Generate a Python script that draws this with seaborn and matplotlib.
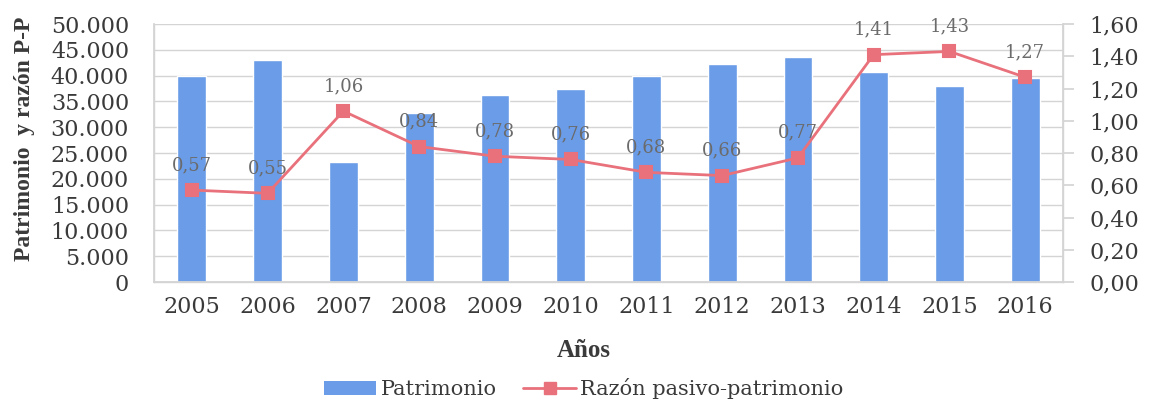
import matplotlib
matplotlib.use("Agg")
import matplotlib.pyplot as plt
from matplotlib.lines import Line2D
from matplotlib.patches import Patch
from matplotlib.ticker import FuncFormatter, MultipleLocator
import seaborn as sns
import pandas as pd

years = ["2005", "2006", "2007", "2008", "2009", "2010",
         "2011", "2012", "2013", "2014", "2015", "2016"]
patrimonio = [40000, 43000, 23200, 32800, 36200, 37400,
              40000, 42200, 43600, 40700, 38000, 39500]
razon = [0.57, 0.55, 1.06, 0.84, 0.78, 0.76,
         0.68, 0.66, 0.77, 1.41, 1.43, 1.27]

df = pd.DataFrame({"Año": years, "Patrimonio": patrimonio, "Razon": razon})

sns.set_theme(style="white")
plt.rcParams["font.family"] = ["DejaVu Serif"]

bar_color = "#6a9ce8"
line_color = "#e8717b"
text_color = "#3a3a3a"
grid_color = "#d4d4d4"

fig = plt.figure(figsize=(11.51, 4.07), dpi=100)
ax = fig.add_axes([0.1338, 0.3071, 0.7898, 0.6339])

sns.barplot(data=df, x="Año", y="Patrimonio", color=bar_color,
            width=0.38, saturation=1, ax=ax)
ax.set_ylim(0, 50000)
ax.yaxis.set_major_locator(MultipleLocator(5000))
ax.yaxis.set_major_formatter(
    FuncFormatter(lambda v, p: f"{int(v):,}".replace(",", ".")))
ax.grid(axis="y", color=grid_color, linewidth=1.0)
ax.set_axisbelow(True)
ax.tick_params(axis="y", length=0, labelsize=16, colors=text_color, pad=18)
ax.tick_params(axis="x", length=0, labelsize=16, colors=text_color, pad=10)
for s in ["left", "right", "top", "bottom"]:
    ax.spines[s].set_color(grid_color)
    ax.spines[s].set_linewidth(1.0)
ax.spines["top"].set_visible(False)

ax.set_xlabel("Años", fontsize=18, fontweight="bold", color=text_color,
              family="Liberation Serif")
ax.xaxis.set_label_coords(0.473, -0.264)
ax.xaxis.label.set_va("center")
ax.set_ylabel("Patrimonio  y razón P-P", fontsize=17, fontweight="bold",
              color=text_color, family="Liberation Serif")
ax.yaxis.set_label_coords(-0.143, 0.556)
ax.yaxis.label.set_va("center")

ax2 = ax.twinx()
sns.pointplot(data=df, x="Año", y="Razon", color=line_color, markers="s",
              markersize=8, linewidth=2, ax=ax2)
ax2.set_ylim(0, 1.6)
ax2.yaxis.set_major_locator(MultipleLocator(0.2))
ax2.yaxis.set_major_formatter(
    FuncFormatter(lambda v, p: f"{v:.2f}".replace(".", ",")))
ax2.tick_params(axis="y", length=8, color=grid_color, labelsize=16,
                colors=text_color, pad=11)
ax2.tick_params(axis="y", color=grid_color)
ax2.set_ylabel("")
for s in ["left", "right", "top", "bottom"]:
    ax2.spines[s].set_color(grid_color)
ax2.spines["top"].set_visible(False)
ax2.set_xlim(-0.5, len(years) - 0.5)
ax.set_xlim(-0.5, len(years) - 0.5)

for i, v in enumerate(razon):
    ax2.annotate(f"{v:.2f}".replace(".", ","), (i, v),
                 xytext=(0, 18), textcoords="offset points",
                 ha="center", va="center", fontsize=13, color="#6b6b6b")

handles = [
    Patch(facecolor=bar_color, edgecolor="none", label="Patrimonio"),
    Line2D([0], [0], color=line_color, lw=2, marker="s", markersize=9,
           label="Razón pasivo-patrimonio"),
]
fig.legend(handles=handles, loc="center", bbox_to_anchor=(0.507, 0.045),
           ncol=2, frameon=False, fontsize=15, labelcolor=text_color,
           handlelength=2.5, columnspacing=1.3, handletextpad=0.2)

fig.savefig("out.png", dpi=100, facecolor="white")
